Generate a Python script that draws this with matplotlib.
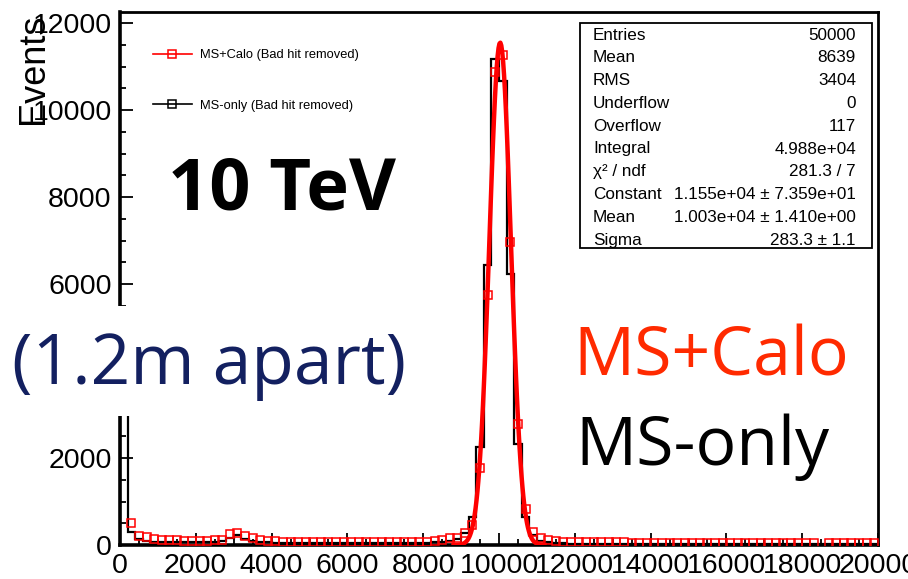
import numpy as np
import matplotlib
matplotlib.use("Agg")
import matplotlib.pyplot as plt
from matplotlib.lines import Line2D
from matplotlib.patches import Rectangle

# histogram binning: 100 bins of 200 over 0-20000
bin_edges = np.arange(0, 20001, 200)

# MS-only (Bad hit removed), black histogram
ms_only = [
    4500, 300, 130, 90, 80, 75, 75, 70, 70, 70,
    70, 70, 75, 85, 170, 230, 130, 100, 70, 60,
    55, 55, 50, 50, 50, 45, 45, 45, 45, 45,
    45, 45, 45, 45, 45, 45, 50, 50, 50, 55,
    55, 60, 65, 90, 130, 270, 650, 2250, 6440, 11170,
    10670, 6230, 2320, 650, 230, 100, 60, 45, 35, 30,
    30, 28, 25, 25, 25, 22, 22, 22, 20, 20,
    20, 20, 20, 20, 18, 18, 18, 18, 18, 18,
    18, 18, 18, 18, 15, 15, 15, 15, 15, 15,
    15, 15, 15, 15, 15, 15, 15, 15, 15, 15,
]

# MS+Calo (Bad hit removed), red markers
ms_calo = [
    4000, 500, 210, 175, 130, 115, 110, 105, 100, 100,
    100, 100, 105, 120, 250, 270, 210, 150, 110, 90,
    85, 80, 80, 75, 75, 70, 70, 70, 65, 65,
    65, 65, 60, 60, 60, 60, 65, 65, 70, 75,
    80, 95, 110, 150, 170, 270, 450, 1780, 5750, 10880,
    11260, 6970, 2780, 830, 300, 150, 110, 90, 80, 75,
    70, 70, 65, 65, 60, 60, 60, 55, 55, 55,
    55, 55, 50, 50, 50, 50, 50, 50, 50, 50,
    50, 50, 50, 50, 45, 45, 45, 45, 45, 45,
    45, 45, 0, 45, 45, 45, 45, 45, 45, 45,
]

# gaussian fit parameters (from stats box)
fit_const = 1.155e4
fit_mean = 1.003e4
fit_sigma = 283.3
fit_range = (8800, 11200)

stats_rows = [
    ("Entries", "50000"),
    ("Mean", "8639"),
    ("RMS", "3404"),
    ("Underflow", "0"),
    ("Overflow", "117"),
    ("Integral", "4.988e+04"),
    ("χ² / ndf", "281.3 / 7"),
    ("Constant", "1.155e+04 ± 7.359e+01"),
    ("Mean", "1.003e+04 ± 1.410e+00"),
    ("Sigma", "283.3 ± 1.1"),
]

W, H = 908, 579
plt.rcParams['font.family'] = ['Liberation Sans', 'DejaVu Sans']

fig = plt.figure(figsize=(W / 100, H / 100), dpi=100)
ax = fig.add_axes([120 / W, 1 - 545 / H, (878 - 120) / W, (545 - 12) / H])

def fx(px):
    return px / W

def fy(py):
    return 1 - py / H

centers = (bin_edges[:-1] + bin_edges[1:]) / 2
black = np.array(ms_only, dtype=float)
red = np.array(ms_calo, dtype=float)

ax.stairs(black, bin_edges, color='black', lw=1.6, zorder=3)
red_show = np.where(red > 0, red, np.nan)
ax.plot(centers, red_show, ls='none', marker='s', ms=5.6, mfc='none',
        mec='red', mew=1.1, zorder=4)

xf = np.linspace(fit_range[0], fit_range[1], 100)
yf = fit_const * np.exp(-0.5 * ((xf - fit_mean) / fit_sigma) ** 2)
ax.plot(xf, yf, color='red', lw=3.2, zorder=5)

ax.set_xlim(0, 20000)
ax.set_ylim(0, 12253)
ax.set_xticks(np.arange(0, 20001, 2000))
ax.set_xticks(np.arange(0, 20001, 500), minor=True)
ax.set_yticks(np.arange(0, 12001, 2000))
ax.set_yticks(np.arange(0, 12001, 500), minor=True)
ax.tick_params(which='both', direction='in', top=False, right=False,
               labelsize=20.5, width=1.3)
ax.tick_params(which='major', length=9, pad=6)
ax.tick_params(which='minor', length=4.5)
for side in ['left', 'bottom']:
    ax.spines[side].set_linewidth(2.6)
for side in ['right', 'top']:
    ax.spines[side].set_linewidth(2.0)

fig.text(fx(33), fy(14), "Events", rotation=90, ha='center', va='top',
         fontsize=26)

# legend
handles = [
    Line2D([], [], color='red', lw=1.2, marker='s', ms=5.6, mfc='none', mew=1.1),
    Line2D([], [], color='black', lw=1.2, marker='s', ms=5.6, mfc='none', mew=1.1),
]
ax.legend(handles, ["MS+Calo (Bad hit removed)", "MS-only (Bad hit removed)"],
          loc='upper left', bbox_to_anchor=((153 - 120) / 758, 1 - (49 - 12) / 533),
          frameon=False, fontsize=9.3, labelspacing=3.0, handlelength=3.0,
          handletextpad=0.6, numpoints=1, borderpad=0, borderaxespad=0)

# stats box
fig.patches.append(Rectangle((fx(580), fy(248)), fx(872 - 580), (248 - 23) / H,
                             transform=fig.transFigure, fill=True, fc='white',
                             ec='black', lw=1.3, zorder=6))
for i, (name, val) in enumerate(stats_rows):
    yy = 35 + i * 22.8
    fig.text(fx(593), fy(yy), name, ha='left', va='center', fontsize=12.3, zorder=7)
    fig.text(fx(856), fy(yy), val, ha='right', va='center', fontsize=12.3, zorder=7)

# annotations
fig.patches.append(Rectangle((0, fy(416)), fx(420), (416 - 306) / H,
                             transform=fig.transFigure, fc='white', ec='none',
                             zorder=6))
fig.text(fx(168), fy(210), "10 TeV", family='Open Sans', weight='bold',
         fontsize=52, ha='left', va='baseline', zorder=7)
fig.text(fx(12), fy(384), "(1.2m apart)", family='Open Sans', fontsize=50,
         color='#132060', ha='left', va='baseline', zorder=7)
fig.text(fx(573), fy(376), "MS+Calo", family='Open Sans', fontsize=49,
         color='#ff2a00', ha='left', va='baseline', zorder=7)
fig.text(fx(575), fy(465), "MS-only", family='Open Sans', fontsize=49,
         color='black', ha='left', va='baseline', zorder=7)

fig.savefig("out.png", dpi=100)
